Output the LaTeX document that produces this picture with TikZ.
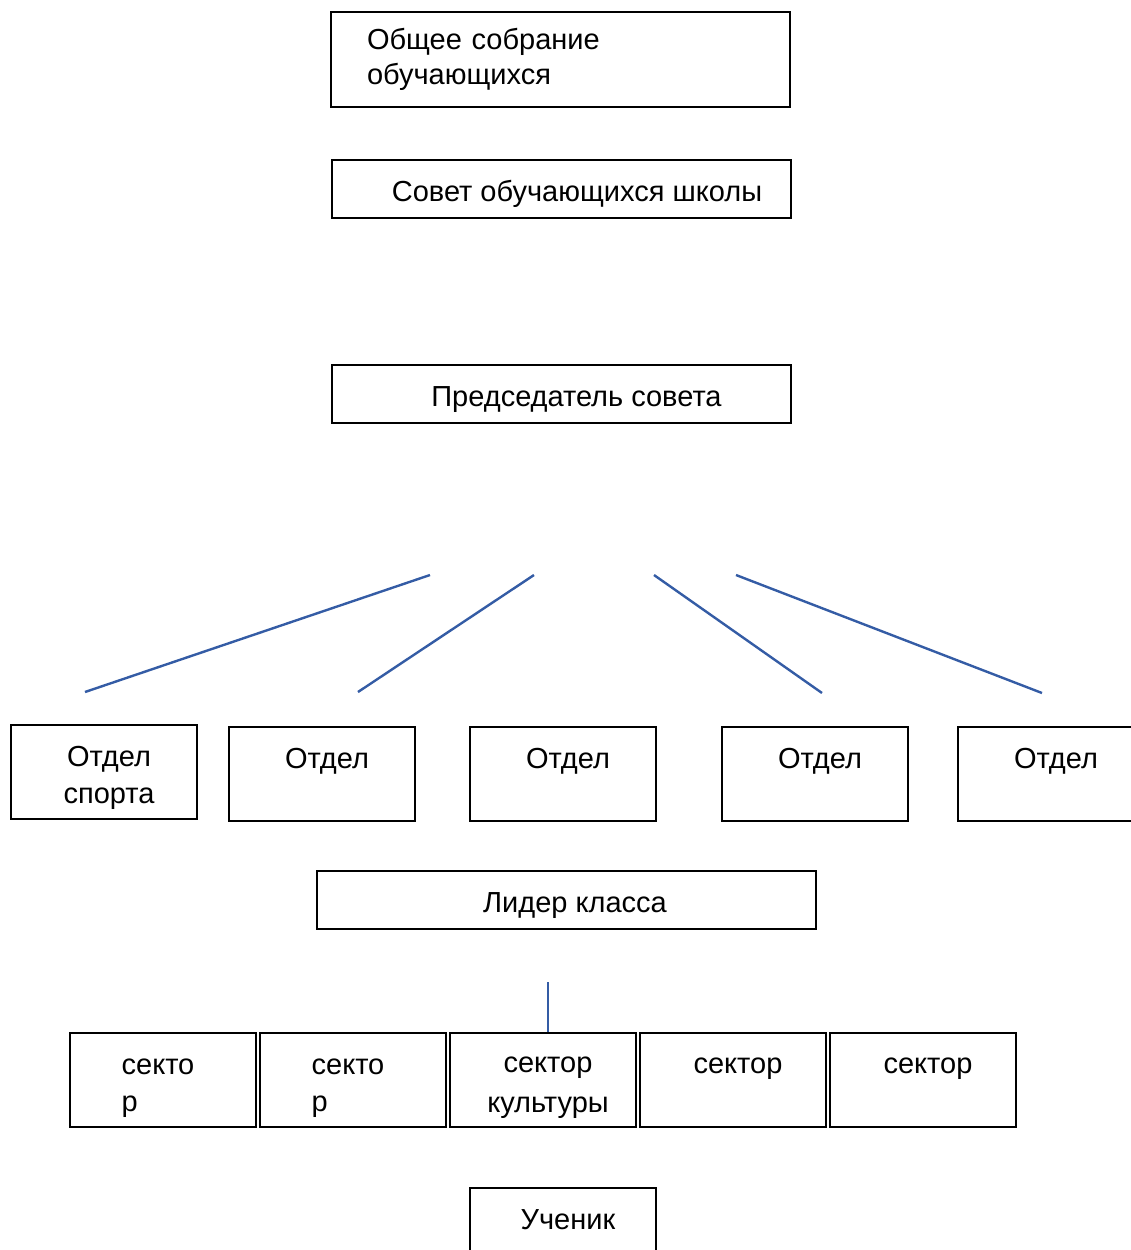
\documentclass[tikz,border=0pt]{standalone}
\usepackage{fontspec}
\setmainfont{Liberation Sans}
\usetikzlibrary{positioning}
\definecolor{linkblue}{RGB}{52,92,165}
% fixed line box as in the text boxes, with a small left indent
\newcommand\rowstrut[1][5pt]{\hspace*{#1}\rule[-3pt]{0pt}{18.5pt}}

\begin{document}
\begin{tikzpicture}[
  x=0.5pt, y=-0.5pt,
  font=\fontsize{14.5}{18.5}\selectfont,
  node distance=1pt,
  box/.style={draw, line width=1pt, align=center, inner sep=0pt, minimum height=47pt},
  wide/.style={box, minimum width=229.5pt, minimum height=29pt},
  unit/.style={box, minimum width=93pt},
  link/.style={draw=linkblue, line width=1.2pt}
]
\useasboundingbox (0,0) rectangle (1131,1250);
\clip (0,0) rectangle (1131,1250);

% council levels
\node[box, minimum width=229.5pt, minimum height=47.5pt, text width=193.5pt, align=left,
  font=\fontsize{14.5}{17.5}\selectfont] (meet) at (560.5,59.5) {Общее собрание\\обучающихся};
\node[wide] (council) at (561.5,189) {\rowstrut[15.5pt]Совет обучающихся школы};
\node[wide] (chair) at (561.5,394) {\rowstrut[15pt]Председатель совета};

% departments
\node[unit] (sport) at (104,772) {\rowstrut Отдел\\\rowstrut спорта};
\node[unit] (dep2) at (322,774) {\rowstrut Отдел\\\rowstrut};
\node[unit] (dep3) at (563,774) {\rowstrut Отдел\\\rowstrut};
\node[unit] (dep4) at (815,774) {\rowstrut Отдел\\\rowstrut};
\node[unit] (dep5) at (1051,774) {\rowstrut Отдел\\\rowstrut};

\coordinate (top1) at (430,575);
\coordinate (top2) at (534,575);
\coordinate (top3) at (654,575);
\coordinate (top4) at (736,575);
\coordinate (end1) at (85,692);
\coordinate (end2) at (358,692);
\coordinate (end3) at (822,693);
\coordinate (end4) at (1042,693);
\draw[link] (top1) -- (end1);
\draw[link] (top2) -- (end2);
\draw[link] (top3) -- (end3);
\draw[link] (top4) -- (end4);

\node[wide, minimum width=249.5pt] (leader) at (566.5,900) {\rowstrut[8.5pt]Лидер класса};

% sectors
\node[unit, align=left] (sec1) at (163,1080) {\rowstrut[-5pt]секто\\\rowstrut[-5pt]р};
\node[unit, align=left, right=of sec1] (sec2) {\rowstrut[-5pt]секто\\\rowstrut[-5pt]р};
\node[unit, right=of sec2] (sec3) {\rowstrut сектор\\\rowstrut культуры};
\node[unit, right=of sec3] (sec4) {\rowstrut сектор\\\rowstrut};
\node[unit, right=of sec4] (sec5) {\rowstrut сектор\\\rowstrut};

\coordinate (lk) at (548,982);
\draw[link] (lk) -- (lk |- sec3.north);

\node[unit] (pupil) at (563,1235) {\rowstrut Ученик\\\rowstrut};
\end{tikzpicture}
\end{document}
